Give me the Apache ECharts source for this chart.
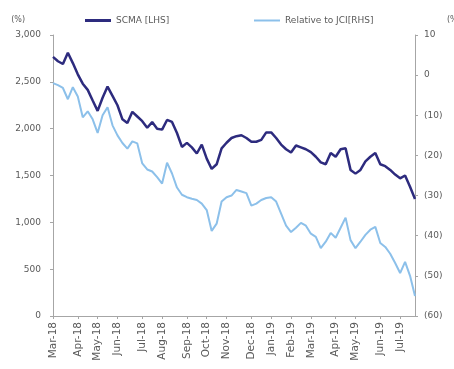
<!DOCTYPE html>
<html>
<head>
    <meta charset="utf-8">
    <title>SCMA vs JCI</title>
    <script src="https://cdn.jsdelivr.net/npm/echarts@6/dist/echarts.min.js"></script>
    <style type="text/css">
        body{ margin:0; background:#fff; }
    </style>
</head>
<body>
<div id="main" style="width:454px;height:369px;"></div>

<script type="text/javascript">
    // weekly points, Mar-18 .. Jul-19
    var weeks = [
        '2018-03-02','2018-03-09','2018-03-16','2018-03-23','2018-03-30',
        '2018-04-06','2018-04-13','2018-04-20','2018-04-27',
        '2018-05-04','2018-05-11','2018-05-18','2018-05-25',
        '2018-06-01','2018-06-08','2018-06-15','2018-06-22','2018-06-29',
        '2018-07-06','2018-07-13','2018-07-20','2018-07-27',
        '2018-08-03','2018-08-10','2018-08-17','2018-08-24','2018-08-31',
        '2018-09-07','2018-09-14','2018-09-21','2018-09-28',
        '2018-10-05','2018-10-12','2018-10-19','2018-10-26',
        '2018-11-02','2018-11-09','2018-11-16','2018-11-23','2018-11-30',
        '2018-12-07','2018-12-14','2018-12-21','2018-12-28',
        '2019-01-04','2019-01-11','2019-01-18','2019-01-25',
        '2019-02-01','2019-02-08','2019-02-15','2019-02-22',
        '2019-03-01','2019-03-08','2019-03-15','2019-03-22','2019-03-29',
        '2019-04-05','2019-04-12','2019-04-19','2019-04-26',
        '2019-05-03','2019-05-10','2019-05-17','2019-05-24','2019-05-31',
        '2019-06-07','2019-06-14','2019-06-21','2019-06-28',
        '2019-07-05','2019-07-12','2019-07-19','2019-07-26'
    ];
    var monthNames = ['Jan','Feb','Mar','Apr','May','Jun','Jul','Aug','Sep','Oct','Nov','Dec'];

    // SCMA share price (LHS)
    var scma = [
        2766, 2720, 2690, 2810, 2700, 2580, 2480, 2414, 2300, 2190,
        2330, 2449, 2350, 2250, 2100, 2060, 2180, 2130, 2080, 2010,
        2070, 2000, 1990, 2093, 2072, 1954, 1805, 1848, 1800, 1735,
        1830, 1680, 1570, 1620, 1790, 1850, 1900, 1920, 1930, 1900,
        1860, 1860, 1880, 1960, 1960, 1900, 1830, 1780, 1745, 1820,
        1800, 1780, 1750, 1700, 1640, 1620, 1740, 1700, 1780, 1790,
        1560, 1520, 1560, 1650, 1700, 1740, 1620, 1600, 1560, 1510,
        1470, 1500, 1380, 1250
    ];
    // relative performance vs JCI, % (RHS)
    var relJci = [
        -2.0, -2.5, -3.2, -6.0, -3.0, -5.3, -10.5, -9.0, -11.0, -14.4,
        -10.0, -8.0, -12.5, -15.0, -16.9, -18.3, -16.5, -17.0, -22.0, -23.5,
        -24.0, -25.4, -27.0, -21.8, -24.5, -28.0, -29.8, -30.4, -30.8, -31.1,
        -32.0, -33.6, -38.8, -37.0, -31.5, -30.4, -30.0, -28.6, -29.0, -29.4,
        -32.5, -32.0, -31.1, -30.6, -30.4, -31.5, -34.5, -37.5, -39.1, -38.0,
        -36.8, -37.5, -39.5, -40.3, -43.1, -41.5, -39.3, -40.5, -38.0, -35.5,
        -41.1, -43.1, -41.5, -39.8, -38.5, -37.8, -41.8, -42.8, -44.5, -46.8,
        -49.3, -46.5, -50.0, -55.0
    ];

    function isMonthStart(idx) {
        return idx === 0 || weeks[idx].slice(0, 7) !== weeks[idx - 1].slice(0, 7);
    }

    var txt = '#595959';
    var axisGray = '#a6a6a6';
    var font = 'DejaVu Sans';

    var myChart = echarts.init(document.getElementById('main'));
    myChart.setOption({
        animation: false,
        textStyle: { fontFamily: font },
        legend: [{
            data: ['SCMA [LHS]'],
            left: 80, top: 11,
            icon: 'rect', itemWidth: 26, itemHeight: 3, itemGap: 3,
            textStyle: { color: txt, fontSize: 9, fontFamily: font }
        }, {
            data: ['Relative to JCI[RHS]'],
            left: 249, top: 11,
            icon: 'rect', itemWidth: 26, itemHeight: 2, itemGap: 3,
            textStyle: { color: txt, fontSize: 9, fontFamily: font }
        }],
        grid: { left: 53, right: 39, top: 35, bottom: 53, containLabel: false, outerBoundsMode: 'none' },
        xAxis: {
            type: 'category',
            boundaryGap: false,
            data: weeks,
            axisLine: { lineStyle: { color: axisGray } },
            axisTick: { interval: function (i) { return isMonthStart(i); }, length: 3, lineStyle: { color: axisGray } },
            axisLabel: {
                interval: function (i) { return isMonthStart(i); },
                rotate: 90,
                color: txt,
                fontSize: 10.5,
                fontFamily: font,
                margin: 6,
                formatter: function (v) {
                    return monthNames[parseInt(v.slice(5, 7), 10) - 1] + '-' + v.slice(2, 4);
                }
            }
        },
        yAxis: [{
            type: 'value',
            min: 0, max: 3000, interval: 500,
            name: '(%)',
            nameLocation: 'end',
            nameGap: 11,
            nameTextStyle: { color: txt, fontSize: 8, fontFamily: font, align: 'right', padding: [0, 28, 0, 0] },
            axisLine: { show: true, lineStyle: { color: axisGray } },
            axisTick: { show: true, length: 3, lineStyle: { color: axisGray } },
            splitLine: { show: false },
            axisLabel: {
                color: txt, fontSize: 9, fontFamily: font, margin: 12,
                formatter: function (v) { return v.toLocaleString('en-US'); }
            }
        }, {
            type: 'value',
            min: -60, max: 10, interval: 10,
            name: '(%)',
            nameLocation: 'end',
            nameGap: 11,
            nameTextStyle: { color: txt, fontSize: 8, fontFamily: font, align: 'left', padding: [0, 0, 0, 32] },
            axisLine: { show: true, lineStyle: { color: axisGray } },
            axisTick: { show: true, length: 3, lineStyle: { color: axisGray } },
            splitLine: { show: false },
            axisLabel: {
                color: txt, fontSize: 9, fontFamily: font, margin: 9,
                formatter: function (v) { return v < 0 ? '(' + (-v) + ')' : String(v); }
            }
        }],
        series: [{
            name: 'Relative to JCI[RHS]',
            type: 'line',
            yAxisIndex: 1,
            data: relJci,
            showSymbol: false,
            color: '#8cc0ea',
            lineStyle: { width: 2, color: '#8cc0ea' }
        }, {
            name: 'SCMA [LHS]',
            type: 'line',
            yAxisIndex: 0,
            data: scma,
            showSymbol: false,
            color: '#2d2b7e',
            lineStyle: { width: 2.5, color: '#2d2b7e' }
        }]
    });
</script>
</body>
</html>
